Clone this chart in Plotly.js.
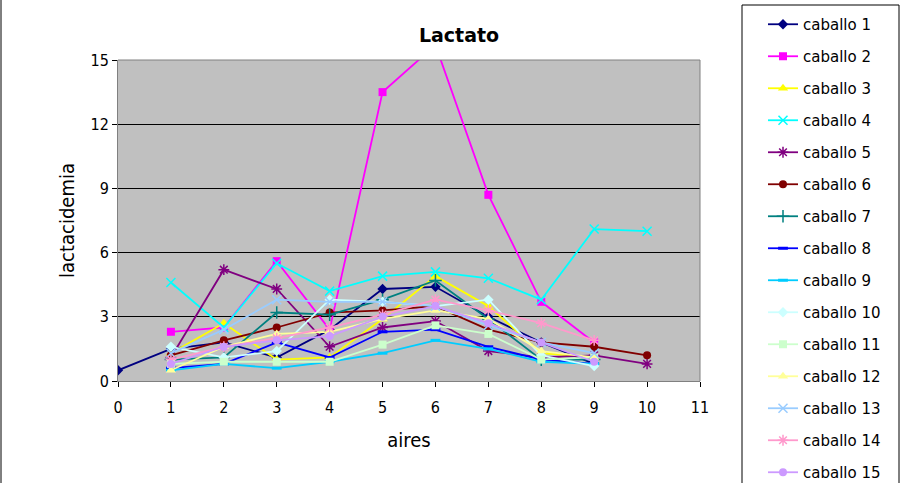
<!DOCTYPE html>
<html>
<head>
<meta charset="utf-8">
<script src="https://cdn.plot.ly/plotly-3.0.1.min.js"></script>
<style>html,body{margin:0;padding:0;background:#fff;}#chart{width:900px;height:483px;}</style>
</head>
<body>
<div id="chart"></div>
<script>
const aires = [0,1,2,3,4,5,6,7,8,9,10];
const names = ["caballo 1","caballo 2","caballo 3","caballo 4","caballo 5","caballo 6","caballo 7","caballo 8","caballo 9","caballo 10","caballo 11","caballo 12","caballo 13","caballo 14","caballo 15"];
const caballo1  = [0.5, 1.5, 1.8, 1.1, 2.4, 4.3, 4.4, 3.0, 1.8, 0.8, null];
const caballo2  = [null, 2.3, 2.5, 5.6, 2.4, 13.5, 15.7, 8.7, 3.7, 1.8, null];
const caballo3  = [null, 1.3, 2.7, 1.0, 1.1, 2.9, 4.9, 3.5, 1.3, 1.1, null];
const caballo4  = [null, 4.6, 2.5, 5.5, 4.2, 4.9, 5.1, 4.8, 3.8, 7.1, 7.0];
const caballo5  = [null, 1.1, 5.2, 4.3, 1.6, 2.5, 2.8, 1.4, 1.1, 1.2, 0.8];
const caballo6  = [null, 1.2, 1.9, 2.5, 3.2, 3.3, 3.5, 2.4, 1.8, 1.6, 1.2];
const caballo7  = [null, 1.0, 1.1, 3.2, 3.1, 3.8, 4.7, 2.9, 1.0, 1.0, null];
const caballo8  = [null, 0.6, 0.8, 1.8, 1.1, 2.3, 2.4, 1.6, 1.0, 0.8, null];
const caballo9  = [null, 0.5, 0.8, 0.6, 0.9, 1.3, 1.9, 1.5, 0.9, 0.8, null];
const caballo10 = [null, 1.6, 1.1, 1.4, 3.8, 3.7, 3.5, 3.8, 1.2, 0.7, null];
const caballo11 = [null, 0.8, 0.9, 0.9, 0.9, 1.7, 2.6, 2.2, 1.0, 1.1, null];
const caballo12 = [null, 0.5, 1.6, 2.2, 2.3, 2.9, 3.3, 2.9, 1.4, 1.1, null];
const caballo13 = [null, 1.3, 2.4, 3.8, 3.7, 3.7, 3.5, 2.6, 1.8, 1.3, null];
const caballo14 = [null, 1.0, 1.6, 2.0, 2.5, 3.1, 3.8, 3.3, 2.7, 1.9, null];
const caballo15 = [null, 0.8, 1.6, 1.9, 2.1, 3.0, 3.5, 2.7, 1.8, 0.9, null];
const series = [caballo1,caballo2,caballo3,caballo4,caballo5,caballo6,caballo7,caballo8,caballo9,caballo10,caballo11,caballo12,caballo13,caballo14,caballo15];
const colors = ["#000080","#FF00FF","#FFFF00","#00FFFF","#800080","#800000","#008080","#0000FF","#00CCFF","#CCFFFF","#CCFFCC","#FFFF99","#99CCFF","#FF99CC","#CC99FF"];
const symbols = ["diamond","square","triangle-up","x-thin-open","asterisk-open","circle","cross-thin-open","line-ew-open","line-ew-open","diamond","square","triangle-up","x-thin-open","asterisk-open","circle"];
const sizes = [8,8,9,9,9,8,9,7,7,8,8,9,9,9,8];

const traces = series.map((ys, i) => ({
  type: 'scatter', mode: 'lines+markers', name: names[i],
  x: aires, y: ys, connectgaps: false, legendgroup: 'g' + i,
  line: {color: colors[i], width: 1.8},
  marker: {symbol: symbols[i], size: sizes[i], color: colors[i], line: {color: colors[i], width: (symbols[i].indexOf('open') >= 0 ? (symbols[i]==='line-ew-open'?3:1.5) : 0)}}
}));

const pxX = v => (v - 118) / 582;
const pxY = v => (381 - v) / 321;
const condensed = 'DejaVu Sans Condensed, DejaVu Sans, Verdana, sans-serif';

const layout = {
  width: 900, height: 483,
  margin: {l: 118, r: 200, t: 60, b: 102},
  paper_bgcolor: '#FFFFFF', plot_bgcolor: '#C0C0C0',
  font: {family: 'DejaVu Sans, Verdana, sans-serif', color: '#000', size: 15},
  title: {text: '<b>Lactato</b>', font: {size: 19, family: 'DejaVu Sans, Verdana, sans-serif'}, x: 459/900, xanchor: 'center', xref: 'container', y: 1 - 35/483, yanchor: 'middle', yref: 'container'},
  xaxis: {range: [0, 11], dtick: 1, tick0: 0, showgrid: false, zeroline: false, showline: true, linecolor: '#808080', linewidth: 1, ticks: 'outside', ticklen: 5, tickcolor: '#000', mirror: false,
          ticklabelstandoff: 7, tickfont: {size: 16, family: condensed}, title: {text: 'aires', font: {size: 20, family: condensed}, standoff: 16}},
  yaxis: {range: [0, 15], dtick: 3, tick0: 0, showgrid: true, gridcolor: '#000', gridwidth: 1, zeroline: false, showline: true, linecolor: '#808080', linewidth: 1, ticks: 'outside', ticklen: 5, tickcolor: '#000',
          tickfont: {size: 16, family: condensed}, title: {text: 'lactacidemia', font: {size: 20, family: condensed}, standoff: 10}},
  showlegend: true,
  legend: {xref: 'container', yref: 'container', x: 763/900, y: 1 - 8/483, xanchor: 'left', yanchor: 'top', bgcolor: 'rgba(0,0,0,0)', borderwidth: 0, font: {size: 15}, tracegroupgap: 9.5, itemwidth: 30, maxheight: 1000},
  shapes: [
    {type: 'rect', xref: 'paper', yref: 'paper', x0: pxX(742), x1: pxX(899), y0: pxY(500), y1: pxY(5), line: {color: '#000', width: 1}, fillcolor: 'rgba(0,0,0,0)', layer: 'above'},
    {type: 'line', xref: 'paper', yref: 'paper', x0: pxX(1), x1: pxX(1), y0: pxY(500), y1: pxY(0), line: {color: '#000', width: 1}},
    {type: 'line', xref: 'paper', yref: 'paper', x0: 0, x1: 1, y0: 1, y1: 1, line: {color: '#808080', width: 1}},
    {type: 'line', xref: 'paper', yref: 'paper', x0: 1, x1: 1, y0: 0, y1: 1, line: {color: '#808080', width: 1}}
  ]
};

Plotly.newPlot('chart', traces, layout, {displayModeBar: false, staticPlot: true});
</script>
</body>
</html>
